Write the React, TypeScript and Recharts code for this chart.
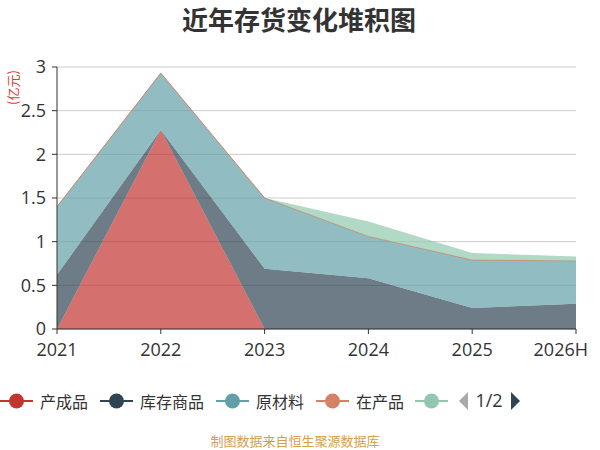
import React from "react";
import {
  AreaChart,
  Area,
  XAxis,
  YAxis,
  CartesianGrid,
} from "recharts";

const years = ["2021", "2022", "2023", "2024", "2025", "2026H"];
const finished = [0, 2.28, 0, 0, 0, 0];
const goods = [0.62, 0, 0.69, 0.58, 0.24, 0.29];
const materials = [0.78, 0.65, 0.81, 0.48, 0.55, 0.49];
const wip = [0, 0, 0, 0, 0, 0];
const others = [null, null, 0, 0.17, 0.08, 0.05];
const yTicks = [0, 0.5, 1, 1.5, 2, 2.5, 3];

const SERIES = [
  { key: "finished", name: "产成品", color: "#c23531", line: 0 },
  { key: "goods", name: "库存商品", color: "#2f4554", line: 0 },
  { key: "materials", name: "原材料", color: "#61a0a8", line: 0 },
  { key: "wip", name: "在产品", color: "#d48265", line: 1 },
  { key: "others", name: "周转材料", color: "#91c7ae", line: 0 },
];

const data = years.map((year, i) => ({
  year,
  finished: finished[i],
  goods: goods[i],
  materials: materials[i],
  wip: wip[i],
  others: others[i],
}));

const FONT = '"Open Sans", "Noto Sans CJK SC", sans-serif';
const CJK = '"Noto Sans CJK SC", sans-serif';
const legendLeft = [0, 100, 216, 316, 415];

// keep the last label inside the chart like the original does
function YearTick(props: any) {
  const { x, y, payload, index } = props;
  const last = index === years.length - 1;
  return (
    <text
      x={last ? x + 12 : x}
      y={y}
      dy="0.71em"
      textAnchor={last ? "end" : "middle"}
      fill="#333"
      fontSize={18}
      fontFamily={FONT}
    >
      {payload.value}
    </text>
  );
}

export default function App() {
  return (
    <div
      style={{
        position: "absolute",
        top: 0,
        left: 0,
        width: 600,
        height: 450,
        background: "#fff",
        fontFamily: FONT,
      }}
    >
      <div
        style={{
          position: "absolute",
          top: 0,
          left: 0,
          width: 598,
          textAlign: "center",
          fontSize: 26,
          fontWeight: "bold",
          color: "#333",
          fontFamily: CJK,
        }}
      >
        近年存货变化堆积图
      </div>
      <div
        style={{
          position: "absolute",
          left: -10,
          top: 78,
          width: 44,
          textAlign: "center",
          fontSize: 13,
          color: "#e0403a",
          transform: "rotate(-90deg)",
          fontFamily: CJK,
        }}
      >
        (亿元)
      </div>
      <div style={{ position: "absolute", top: 0, left: 0 }}>
        <AreaChart
          width={600}
          height={370}
          data={data}
          margin={{ top: 67, right: 24, bottom: 0, left: 7 }}
        >
          <CartesianGrid vertical={false} stroke="#ccc" />
          <XAxis
            dataKey="year"
            height={41}
            tick={<YearTick />}
            tickSize={5}
            tickMargin={9}
            axisLine={{ stroke: "#333" }}
            tickLine={{ stroke: "#333" }}
            interval={0}
          />
          <YAxis
            width={50}
            domain={[0, 3]}
            ticks={yTicks}
            tick={{ fill: "#333", fontSize: 18, fontFamily: FONT }}
            tickSize={5}
            tickMargin={6}
            axisLine={{ stroke: "#333" }}
            tickLine={{ stroke: "#333" }}
          />
          {SERIES.map((s) => (
            <Area
              key={s.key}
              type="linear"
              dataKey={s.key}
              name={s.name}
              stackId="1"
              stroke={s.line ? s.color : "none"}
              strokeWidth={s.line}
              fill={s.color}
              fillOpacity={0.7}
              dot={false}
              activeDot={false}
              isAnimationActive={false}
            />
          ))}
        </AreaChart>
      </div>
      {SERIES.map((s, i) => (
        <div
          key={s.key}
          style={{
            position: "absolute",
            left: legendLeft[i],
            top: 389,
            height: 24,
            display: "flex",
            alignItems: "center",
            fontSize: 16,
            color: "#333",
            fontFamily: CJK,
          }}
        >
          <svg width={33} height={24}>
            <line x1={0} y1={12} x2={33} y2={12} stroke={s.color} strokeWidth={2} />
            <circle cx={16.5} cy={12} r={7.5} fill={s.color} />
          </svg>
          {i < 4 && <span style={{ marginLeft: 7 }}>{s.name}</span>}
        </div>
      ))}
      <svg
        width={70}
        height={24}
        style={{ position: "absolute", left: 456, top: 389 }}
      >
        <polygon points="12,3 12,21 3,12" fill="#aaa" />
        <text x={33} y={18} textAnchor="middle" fontSize={18} fill="#333" fontFamily={FONT}>
          1/2
        </text>
        <polygon points="55,3 55,21 64,12" fill="#2f4554" />
      </svg>
      <div
        style={{
          position: "absolute",
          top: 431,
          left: 0,
          width: 590,
          textAlign: "center",
          fontSize: 13,
          color: "#d4a04c",
          fontFamily: CJK,
        }}
      >
        制图数据来自恒生聚源数据库
      </div>
    </div>
  );
}
